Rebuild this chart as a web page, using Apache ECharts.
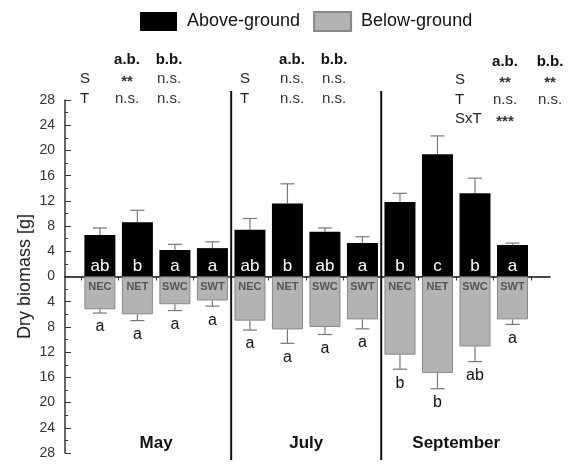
<!DOCTYPE html>
<html>
<head>
<meta charset="utf-8">
<script src="https://cdn.jsdelivr.net/npm/echarts@6/dist/echarts.min.js"></script>
<style>
  html, body { margin: 0; padding: 0; background: #fff; }
  #chart { width: 568px; height: 464px; }
</style>
</head>
<body>
<div id="chart"></div>
<script>
// bars in order: May NEC..SWT, July NEC..SWT, September NEC..SWT
const months = ['May', 'July', 'September'];
const treatments = ['NEC', 'NET', 'SWC', 'SWT'];
const aboveMean = [6.6, 8.6, 4.2, 4.5, 7.4, 11.6, 7.1, 5.3, 11.8, 19.4, 13.2, 5.0];
const aboveSE = [1.1, 1.9, 0.9, 1.0, 1.8, 3.1, 0.6, 1.0, 1.4, 2.9, 2.4, 0.3];
const belowMean = [5.2, 6.0, 4.4, 3.8, 7.0, 8.4, 8.0, 6.8, 12.4, 15.3, 11.1, 6.8];
const belowSE = [0.6, 1.0, 1.0, 0.9, 1.5, 2.2, 1.2, 1.5, 2.3, 2.5, 2.4, 0.8];
const aboveLetters = ['ab', 'b', 'a', 'a', 'ab', 'b', 'ab', 'a', 'b', 'c', 'b', 'a'];
const belowLetters = ['a', 'a', 'a', 'a', 'a', 'a', 'a', 'a', 'b', 'b', 'ab', 'a'];

// ANOVA summary per month (a.b. = above-ground, b.b. = below-ground)
const statTerms = [['S', 'T'], ['S', 'T'], ['S', 'T', 'SxT']];
const statAB = [['**', 'n.s.'], ['n.s.', 'n.s.'], ['**', 'n.s.', '***']];
const statBB = [['n.s.', 'n.s.'], ['n.s.', 'n.s.'], ['**', 'n.s.', '']];

const FONT = 'Liberation Sans, Arial, sans-serif';

const chart = echarts.init(document.getElementById('chart'));

const nBars = aboveMean.length;
const barPos = aboveMean.map((_, i) => i);
const groupTicks = Array.from({ length: nBars + 1 }, (_, i) => i - 0.5);
const monthCenters = months.map((_, m) => m * 4 + 1.5);
const separators = [3.5, 7.5];

// stats text blocks (header + rows)
const termX = [80, 240, 455];
const abX = [127, 292, 505];
const bbX = [169, 334, 550];
const headY = [60, 60, 62];
const rowY0 = [79, 79, 80];
const graphics = [];
months.forEach((_, m) => {
  graphics.push({ type: 'text', x: abX[m], y: headY[m], style: { text: 'a.b.', font: 'bold 15px ' + FONT, fill: '#111', align: 'center', verticalAlign: 'middle' } });
  graphics.push({ type: 'text', x: bbX[m], y: headY[m], style: { text: 'b.b.', font: 'bold 15px ' + FONT, fill: '#111', align: 'center', verticalAlign: 'middle' } });
  statTerms[m].forEach((t, r) => {
    const y = rowY0[m] + r * 19.5;
    graphics.push({ type: 'text', x: termX[m], y: y, style: { text: t, font: '15px ' + FONT, fill: '#222', align: 'left', verticalAlign: 'middle' } });
    [[abX[m], statAB[m][r]], [bbX[m], statBB[m][r]]].forEach(([x, s]) => {
      const star = s.indexOf('*') === 0;
      graphics.push({ type: 'text', x: x, y: star ? y + 3 : y, style: { text: s, font: (star ? 'bold ' : '') + '15px ' + FONT, fill: '#333', align: 'center', verticalAlign: 'middle' } });
    });
  });
});

const option = {
  animation: false,
  backgroundColor: '#fff',
  textStyle: { fontFamily: FONT },
  grid: { left: 65, right: 18, top: 100, bottom: 11 },
  legend: {
    data: ['Above-ground', 'Below-ground'],
    left: 140, top: 11, padding: 0,
    itemWidth: 37, itemHeight: 19, itemGap: 13,
    icon: 'rect',
    textStyle: { fontSize: 18, color: '#111', padding: [0, 0, 0, 5] }
  },
  xAxis: {
    type: 'value', min: -0.93, max: 12,
    axisLine: { onZero: true, lineStyle: { color: '#111', width: 1.5 } },
    axisTick: { show: true, customValues: groupTicks, length: 4, inside: false, lineStyle: { color: '#333' } },
    axisLabel: { show: false },
    splitLine: { show: false }
  },
  yAxis: {
    type: 'value', min: -28, max: 28, interval: 4,
    name: 'Dry biomass [g]', nameLocation: 'middle', nameGap: 31, nameMoveOverlap: false,
    nameTextStyle: { fontSize: 18, color: '#222' },
    axisLine: { show: true, onZero: false, lineStyle: { color: '#333', width: 1.5 } },
    axisTick: { show: true, inside: true, length: 6, lineStyle: { color: '#333' } },
    minorTick: { show: true, splitNumber: 2, length: 3, lineStyle: { color: '#333' } },
    splitLine: { show: false },
    axisLabel: { formatter: v => Math.abs(v), fontSize: 14, color: '#333', margin: 10 }
  },
  graphic: graphics,
  series: [
    {
      name: 'Above-ground', type: 'bar', barWidth: 31, barGap: '-100%',
      data: barPos.map(i => [i, aboveMean[i]]),
      itemStyle: { color: '#000' },
      label: { show: true, position: 'insideBottom', distance: 2, color: '#fff', fontSize: 17, formatter: p => aboveLetters[p.dataIndex] },
      z: 3
    },
    {
      name: 'Below-ground', type: 'bar', barWidth: 31, barGap: '-100%',
      data: barPos.map(i => [i, -belowMean[i]]),
      itemStyle: { color: '#b3b3b3', borderColor: '#888', borderWidth: 1 },
      z: 3
    },
    {
      // above-ground error bars
      type: 'custom', z: 2, silent: true,
      data: barPos.map(i => [i, aboveMean[i], aboveMean[i] + aboveSE[i]]),
      renderItem: (params, api) => {
        const p0 = api.coord([api.value(0), api.value(1)]);
        const p1 = api.coord([api.value(0), api.value(2)]);
        return { type: 'group', children: [
          { type: 'line', shape: { x1: p0[0], y1: p0[1], x2: p1[0], y2: p1[1] }, style: { stroke: '#777', lineWidth: 1.2 } },
          { type: 'line', shape: { x1: p1[0] - 7, y1: p1[1], x2: p1[0] + 7, y2: p1[1] }, style: { stroke: '#777', lineWidth: 1.2 } }
        ] };
      }
    },
    {
      // below-ground error bars, letters and treatment names
      type: 'custom', z: 4, silent: true,
      data: barPos.map(i => [i, -belowMean[i], -(belowMean[i] + belowSE[i])]),
      renderItem: (params, api) => {
        const i = params.dataIndex;
        const p0 = api.coord([api.value(0), api.value(1)]);
        const p1 = api.coord([api.value(0), api.value(2)]);
        const z0 = api.coord([api.value(0), 0]);
        return { type: 'group', children: [
          { type: 'line', shape: { x1: p0[0], y1: p0[1], x2: p1[0], y2: p1[1] }, style: { stroke: '#777', lineWidth: 1.2 } },
          { type: 'line', shape: { x1: p1[0] - 7, y1: p1[1], x2: p1[0] + 7, y2: p1[1] }, style: { stroke: '#777', lineWidth: 1.2 } },
          { type: 'text', x: p1[0], y: p1[1] + 14, style: { text: belowLetters[i], font: '16px ' + FONT, fill: '#111', align: 'center', verticalAlign: 'middle' } },
          { type: 'text', x: z0[0], y: z0[1] + 10, style: { text: treatments[i % 4], font: 'bold 11px ' + FONT, fill: '#555', align: 'center', verticalAlign: 'middle' } }
        ] };
      }
    },
    {
      // month separators
      type: 'custom', z: 5, silent: true,
      data: separators.map(x => [x]),
      renderItem: (params, api) => {
        const top = api.coord([api.value(0), 28]);
        const bot = api.coord([api.value(0), -28]);
        return { type: 'line', shape: { x1: top[0], y1: top[1] - 9, x2: bot[0], y2: bot[1] + 7 }, style: { stroke: '#111', lineWidth: 2 } };
      }
    },
    {
      // month names
      type: 'custom', z: 5, silent: true,
      data: monthCenters.map(x => [x]),
      renderItem: (params, api) => {
        const p = api.coord([api.value(0), -26.4]);
        return { type: 'text', x: p[0], y: p[1], style: { text: months[params.dataIndex], font: 'bold 17px ' + FONT, fill: '#111', align: 'center', verticalAlign: 'middle' } };
      }
    }
  ]
};

chart.setOption(option);
</script>
</body>
</html>
